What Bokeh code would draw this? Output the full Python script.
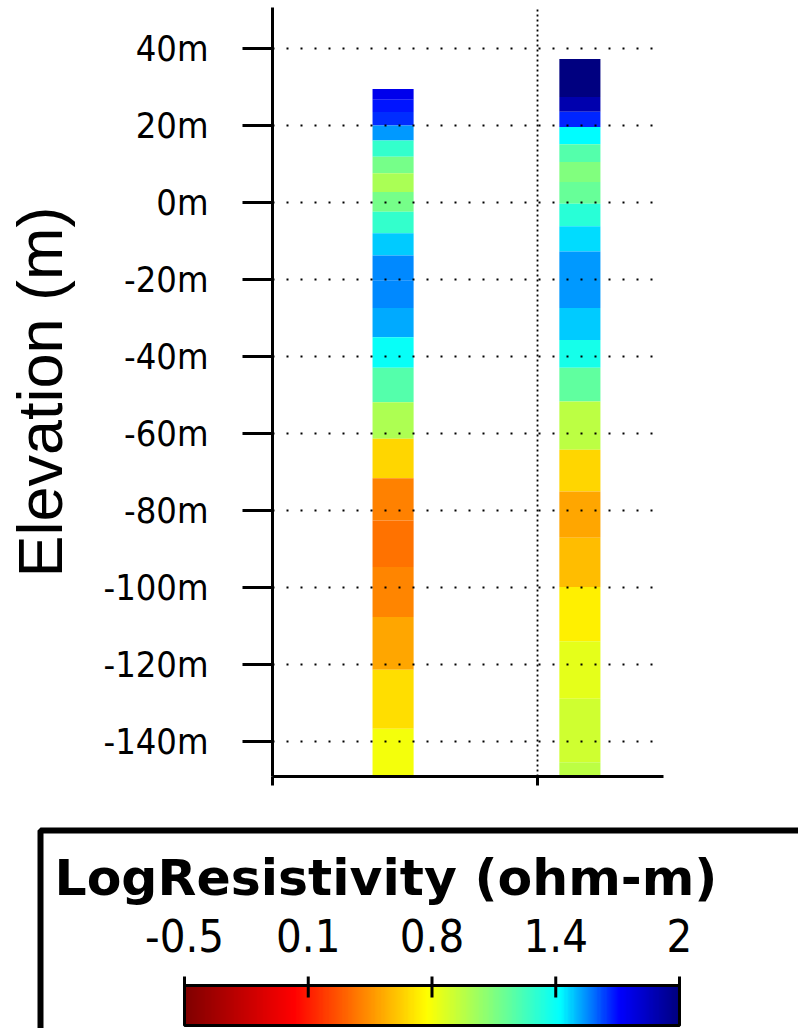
import numpy as np
from bokeh.plotting import figure
from bokeh.models import Range1d, LinearColorMapper, FixedTicker, PrintfTickFormatter, ColumnDataSource
from bokeh.transform import transform
from bokeh.core.properties import value
from bokeh.embed import file_html
from bokeh.resources import INLINE

# ---------------- data ----------------
bh_x = [0.455, 1.160]  # borehole positions along section

bh1_bounds = [29.5, 26.7, 23.5, 20.0, 16.1, 11.9, 7.6, 2.7, -2.4, -8.0, -13.8, -20.3,
              -27.4, -35.0, -42.9, -51.9, -61.4, -71.6, -82.6, -94.7, -107.7, -121.4,
              -136.7, -152.0]
bh1_logres = [1.74, 1.67, 1.64, 1.52, 1.265, 1.085, 0.95, 1.085, 1.265, 1.46, 1.54, 1.54,
              1.50, 1.38, 1.175, 0.94, 0.62, 0.39, 0.35, 0.40, 0.49, 0.635, 0.75]

bh2_bounds = [37.3, 27.4, 23.6, 19.6, 15.1, 10.5, 5.3, -0.3, -6.2, -12.7, -19.9, -27.4,
              -35.7, -42.9, -51.7, -64.2, -75.1, -87.1, -99.9, -114.0, -128.9, -145.4,
              -160.0]
bh2_logres = [2.0, 1.89, 1.65, 1.40, 1.175, 1.06, 1.13, 1.29, 1.44, 1.52, 1.52, 1.46,
              1.345, 1.15, 0.905, 0.62, 0.49, 0.545, 0.685, 0.79, 0.85, 0.905]

y_ticks = [-140, -120, -100, -80, -60, -40, -20, 0, 20, 40]
x_ticks = [0, 1]
cbar_ticks = [-0.5, 0.125, 0.75, 1.375, 2.0]
cbar_labels = ["-0.5", "0.1", "0.8", "1.4", "2"]
cmin, cmax = -0.5, 2.0
cbar_title = "LogResistivity (ohm-m)"

# ---------------- palette ----------------
stops_f = [0.0, 0.22, 0.49, 0.76, 0.88, 1.0]
stops_c = [(128, 0, 0), (255, 0, 0), (255, 255, 0), (0, 255, 255), (0, 0, 255), (0, 0, 128)]
tt = np.linspace(0, 1, 256)
rgb = np.array([np.interp(tt, stops_f, [c[i] for c in stops_c]) for i in range(3)]).T
palette = ["#%02x%02x%02x" % tuple(int(round(v)) for v in row) for row in rgb]
mapper = LinearColorMapper(palette=palette, low=cmin, high=cmax)

# ---------------- main plot ----------------
COL_W = 0.155
left, right, top, bottom, vals = [], [], [], [], []
for xc, bnds, lr in [(bh_x[0], bh1_bounds, bh1_logres), (bh_x[1], bh2_bounds, bh2_logres)]:
    for i, v in enumerate(lr):
        left.append(xc - COL_W / 2)
        right.append(xc + COL_W / 2)
        top.append(bnds[i])
        bottom.append(bnds[i + 1])
        vals.append(v)
src = ColumnDataSource(dict(left=left, right=right, top=top, bottom=bottom, val=vals))

p = figure(frame_width=391, frame_height=769,
           min_border_left=272, min_border_right=135, min_border_top=7, min_border_bottom=44,
           x_range=Range1d(0, 1.4755), y_range=Range1d(-149.1, 50.65),
           output_backend="svg", toolbar_location=None)
p.outline_line_color = None
p.background_fill_color = "white"
p.border_fill_color = "white"

p.quad(left="left", right="right", top="top", bottom="bottom", source=src,
       fill_color=transform("val", mapper), line_color=None)

yax = p.yaxis[0]
yax.ticker = FixedTicker(ticks=y_ticks)
yax.formatter = PrintfTickFormatter(format="%dm")
yax.major_tick_out = 30
yax.major_tick_in = 0
yax.minor_tick_out = 0
yax.minor_tick_in = 0
yax.major_tick_line_width = 3
yax.axis_line_width = 3
yax.major_label_text_font = "DejaVu Sans Condensed"
yax.major_label_text_font_size = "36px"
yax.major_label_text_color = "black"
yax.major_label_standoff = 34
yax.axis_label = "Elevation (m)"
yax.axis_label_text_font = "Liberation Sans"
yax.axis_label_text_font_size = "63px"
yax.axis_label_text_font_style = "normal"
yax.axis_label_text_color = "black"
yax.axis_label_standoff = 25

xax = p.xaxis[0]
xax.ticker = FixedTicker(ticks=x_ticks)
xax.major_tick_out = 9
xax.major_tick_in = 0
xax.minor_tick_out = 0
xax.minor_tick_in = 0
xax.major_tick_line_width = 3
xax.axis_line_width = 3
xax.major_label_text_alpha = 0
xax.major_label_text_font_size = "1px"

p.ygrid.ticker = FixedTicker(ticks=y_ticks)
p.ygrid.grid_line_color = "black"
p.ygrid.grid_line_width = 1.8
p.ygrid.grid_line_dash = "2 12"
p.ygrid.level = "overlay"
p.xgrid.ticker = FixedTicker(ticks=[1])
p.xgrid.grid_line_color = "black"
p.xgrid.grid_line_width = 1.8
p.xgrid.grid_line_dash = "2 3"
p.xgrid.level = "overlay"

# ---------------- colour bar legend ----------------
# x in LogResistivity units (-0.5 at page px 184, 2.0 at 679); y in px above legend bottom
px_per_unit = 198.0
def xv(px):
    return cmin + (px - 184.0) / px_per_unit

LG_H = 208
lg = figure(width=798, height=LG_H, min_border=0,
            x_range=Range1d(xv(0), xv(798)), y_range=Range1d(0, LG_H),
            x_axis_location=None, y_axis_location=None,
            output_backend="svg", toolbar_location=None)
lg.outline_line_color = None
lg.grid.visible = False
lg.background_fill_color = "white"
lg.border_fill_color = "white"

# frame box (continues beyond the right and bottom edge)
lg.quad(left=[xv(40)], right=[xv(1000)], top=[198], bottom=[-100],
        fill_color=None, line_color="black", line_width=6)

# title
lg.text(x=[xv(54)], y=[151], text=[cbar_title], text_font=value("DejaVu Sans"),
        text_font_style="bold", text_font_size="50.5px", text_align="left",
        text_baseline="alphabetic", text_color="black")

# gradient bar
grad = np.linspace(cmin, cmax, 600)[None, :]
lg.image(image=[grad], x=cmin, y=3, dw=cmax - cmin, dh=40, color_mapper=mapper)
lg.quad(left=[cmin], right=[cmax], top=[43], bottom=[3], fill_color=None,
        line_color="black", line_width=3)

# ticks and labels
lg.segment(x0=cbar_ticks, y0=[52] * len(cbar_ticks), x1=cbar_ticks, y1=[31] * len(cbar_ticks),
           line_color="black", line_width=3)
lg.text(x=cbar_ticks, y=[93] * len(cbar_ticks), text=cbar_labels,
        text_font=value("DejaVu Sans Condensed"), text_font_size="45px",
        text_align="center", text_baseline="alphabetic", text_color="black")

open("out.html", "w").write(file_html([p, lg], INLINE))
